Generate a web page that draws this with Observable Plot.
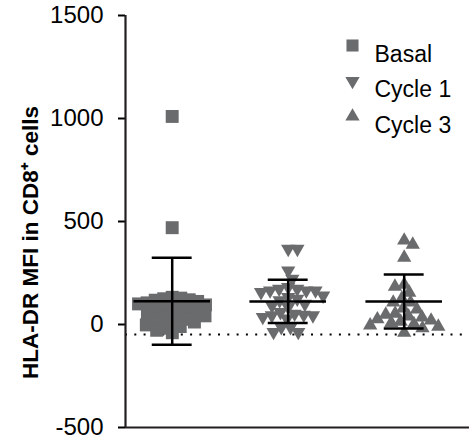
<!DOCTYPE html>
<html>
<head>
<meta charset="utf-8">
<script src="https://cdn.jsdelivr.net/npm/d3@7"></script>
<script src="https://cdn.jsdelivr.net/npm/@observablehq/plot@0.6"></script>
<style>
  html, body { margin: 0; padding: 0; background: #fff; }
  #chart svg { font-family: "Liberation Sans", Arial, sans-serif; }
</style>
</head>
<body>
<div id="chart"></div>
<script>
// ---- data ----
const groups = ["Basal", "Cycle 1", "Cycle 3"];
const basal = [1010, 470, 132, 128, 125, 120, 118, 112, 105, 100, 95, 88, 82, 78, 70, 65, 60, 55, 48, 42, 38, 30, 25, 20, 12, 5, -2, -10, -18, -28, -40];
const cycle1 = [367, 367, 262, 222, 181, 173, 173, 165, 165, 165, 157, 140, 133, 125, 117, 100, 92, 84, 60, 52, 47, 44, 44, 36, 28, -13, -13, -37, -37];
const cycle3 = [408, 388, 325, 194, 184, 155, 126, 107, 107, 78, 73, 53, 48, 40, 34, 26, 20, 14, 8, 2, -4, -10, -18, -40];
const means = [113, 112, 112];
const sds = [211, 105, 131];
const yTicks = [1500, 1000, 500, 0, -500];
const baseline = -48;
const legendLabels = ["Basal", "Cycle 1", "Cycle 3"];

// ---- layout / style ----
const width = 469, height = 441;
const marginLeft = 125, marginRight = 0, marginTop = 15, marginBottom = 14;
const gray = "#6a6b6d";
const ink = "#231f20";
const pxPerGroup = 116;
const firstCenterPx = 46.7;
const xDomain = [-firstCenterPx / pxPerGroup, (width - marginLeft - marginRight - firstCenterPx) / pxPerGroup];
const yDomain = [-500, 1500];
const ys = d3.scaleLinear(yDomain, [height - marginBottom, marginTop]);

const triangleDown = {
  draw(context, size) {
    const y = -Math.sqrt(size / (Math.sqrt(3) * 3));
    context.moveTo(0, -y * 2);
    context.lineTo(-Math.sqrt(3) * y, y);
    context.lineTo(Math.sqrt(3) * y, y);
    context.closePath();
  }
};
const symbols = ["square", triangleDown, "triangle"];
const radii = [7.3, 5.3, 5.3];

// simple beeswarm (pixel collision) computed from the values
function dodge(values, D) {
  const placed = [];
  return values.map((v, k) => {
    const yi = ys(v);
    const intervals = [];
    for (const p of placed) {
      const dy = yi - p.y;
      if (Math.abs(dy) < D) {
        const w = Math.sqrt(D * D - dy * dy);
        intervals.push([p.x - w, p.x + w]);
      }
    }
    const sgn = k % 2 ? 1 : -1;
    const cands = [0, ...intervals.flat()].sort((a, b) => Math.abs(a) - Math.abs(b) || sgn * (b - a));
    const x = cands.find(c => intervals.every(([a, b]) => c <= a + 1e-6 || c >= b - 1e-6));
    placed.push({x, y: yi});
    return x;
  });
}

const series = [basal, cycle1, cycle3];
const collide = [8.6, 9.2, 9.5];
const pointSets = series.map((vals, gi) => {
  const off = dodge(vals, collide[gi]);
  return vals.map((v, i) => ({group: groups[gi], gi, value: v, x: gi + off[i] / pxPerGroup}));
});

const stats = groups.map((g, i) => ({i, mean: means[i], lo: means[i] - sds[i], hi: means[i] + sds[i]}));
const meanHalf = 0.33, capHalf = 0.172;

const legendMarks = legendLabels.flatMap((lab, i) => [
  Plot.dot([lab], {frameAnchor: "top-right", dx: -117, dy: 30 + 35.5 * i, symbol: symbols[i], r: i === 0 ? 6.8 : 5.3, fill: gray}),
  Plot.text([lab], {frameAnchor: "top-right", dx: -95, dy: 30 + 35.5 * i, text: d => d, textAnchor: "start", fontSize: 23, fill: "#000"})
]);

const chart = Plot.plot({
  width, height, marginLeft, marginRight, marginTop, marginBottom,
  x: {domain: xDomain, axis: null},
  y: {domain: yDomain, ticks: yTicks, tickSize: 7, tickPadding: 15, tickFormat: d => String(d), label: null},
  style: {fontSize: "24px", fontFamily: "'Liberation Sans', Arial, sans-serif", color: "#000", background: "#fff", overflow: "visible"},
  marks: [
    Plot.ruleY([baseline], {stroke: "#000", strokeWidth: 2, strokeDasharray: "2,7.3"}),
    ...pointSets.map((pts, gi) => Plot.dot(pts, {x: "x", y: "value", symbol: symbols[gi], r: radii[gi], fill: gray, stroke: "none"})),
    Plot.ruleX(stats, {x: "i", y1: "lo", y2: "hi", stroke: "#000", strokeWidth: 2.5}),
    Plot.ruleY(stats, {y: "mean", x1: d => d.i - meanHalf, x2: d => d.i + meanHalf, stroke: "#000", strokeWidth: 2.5}),
    Plot.ruleY(stats, {y: "hi", x1: d => d.i - capHalf, x2: d => d.i + capHalf, stroke: "#000", strokeWidth: 2.5}),
    Plot.ruleY(stats, {y: "lo", x1: d => d.i - capHalf, x2: d => d.i + capHalf, stroke: "#000", strokeWidth: 2.5}),
    Plot.ruleX([xDomain[0]], {stroke: ink, strokeWidth: 2.2}),
    Plot.ruleY([yDomain[0]], {stroke: ink, strokeWidth: 2.2}),
    Plot.text(["HLA-DR MFI in CD8\u207A cells"], {frameAnchor: "left", dx: -95, dy: 21, rotate: -90, textAnchor: "middle", text: d => d, fontWeight: "bold", fontSize: 22.5, fill: "#000"}),
    ...legendMarks
  ]
});
document.getElementById("chart").appendChild(chart);
// y axis ticks: thicker lines, larger labels
chart.querySelectorAll('g[aria-label^="y-axis"]').forEach(g => {
  g.setAttribute("stroke-width", "2");
  g.setAttribute("font-size", "24");
  g.querySelectorAll("text").forEach(t => t.setAttribute("font-size", "24"));
});
</script>
</body>
</html>
